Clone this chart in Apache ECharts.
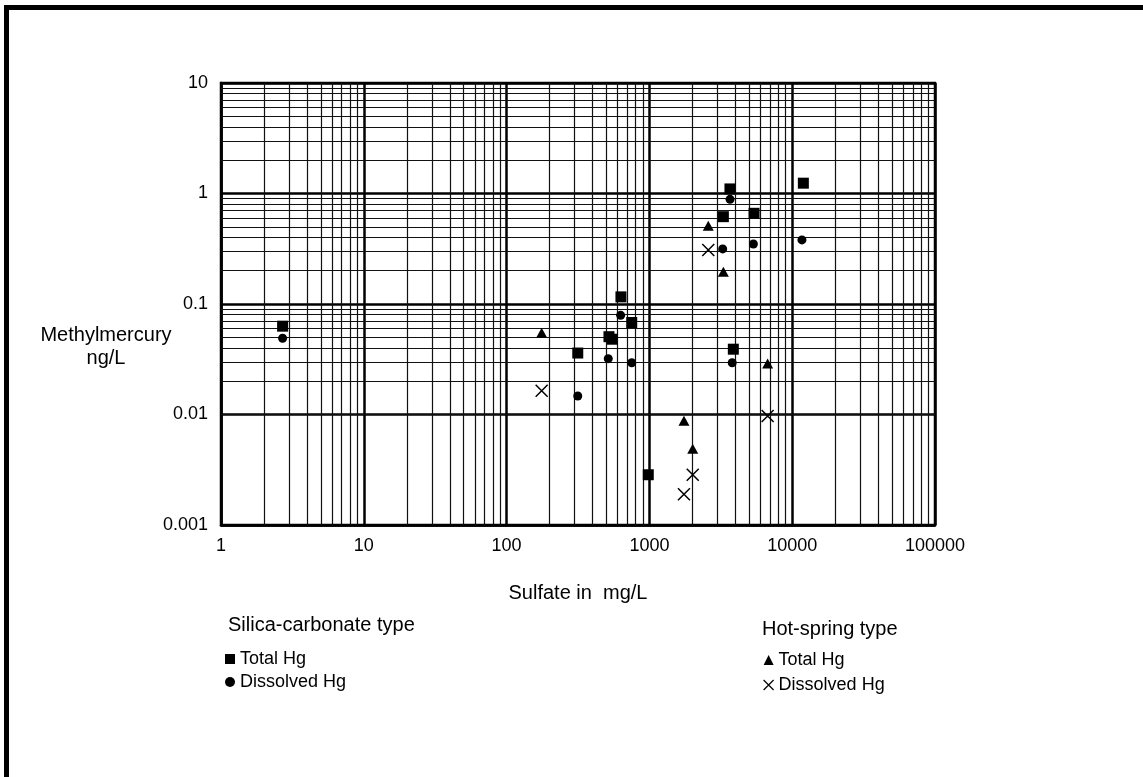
<!DOCTYPE html>
<html>
<head>
<meta charset="utf-8">
<script src="https://cdn.jsdelivr.net/npm/echarts@6/dist/echarts.min.js"></script>
<style>
html,body{margin:0;padding:0;background:#fff;}
#c{width:1143px;height:777px;}
</style>
</head>
<body>
<div id="c"></div>
<script>
// Sulfate (mg/L) vs Methylmercury (ng/L)
const silicaTotal = [[2.7,0.063],[315,0.036],[521,0.0506],[550,0.048],[632,0.116],[752,0.068],[982,0.00285],[3870,0.039],[3665,1.10],[3296,0.617],[5405,0.662],[11970,1.24]];
const silicaDissolved = [[2.7,0.049],[315,0.0147],[515,0.032],[629,0.079],[752,0.0294],[3800,0.0294],[3670,0.886],[3260,0.315],[5350,0.349],[11700,0.38]];
const hotTotal = [[176,0.055],[1746,0.0088],[2011,0.0049],[6730,0.029],[2584,0.511],[3296,0.196]];
const hotDissolved = [[176,0.0164],[2011,0.00285],[1746,0.0019],[6730,0.0097],[2584,0.308]];

const xDecades = [1,10,100,1000,10000];
const yDecades = [0.001,0.01,0.1,1];
const minorSteps = [2,3,4,5,6,7,8,9];

const FONT = 'Liberation Sans';
const XSYM = 'path://M0,0L10,10M10,0L0,10';

const gridLines = [];
xDecades.forEach(d => minorSteps.forEach(m => gridLines.push({xAxis: d*m})));
yDecades.forEach(d => minorSteps.forEach(m => gridLines.push({yAxis: +(d*m).toPrecision(6)})));

const fmt = v => String(+(+v).toPrecision(6));

const chart = echarts.init(document.getElementById('c'), null, {renderer:'canvas'});
chart.setOption({
  backgroundColor:'#fff',
  animation:false,
  textStyle:{fontFamily:FONT},
  grid:{left:221, top:83, width:714, height:442, show:true, borderColor:'#000', borderWidth:2.5, backgroundColor:'transparent'},
  xAxis:{
    type:'log', logBase:10, min:1, max:100000,
    name:'Sulfate in  mg/L', nameLocation:'middle', nameGap:58, nameMoveOverlap:false,
    nameTextStyle:{fontFamily:FONT, fontSize:20, color:'#000'},
    axisLine:{show:true, lineStyle:{color:'#000', width:2.5}},
    axisTick:{show:false},
    axisLabel:{fontFamily:FONT, fontSize:18, color:'#000', margin:12, formatter:fmt},
    splitLine:{show:true, lineStyle:{color:'#000', width:2.5}},
    minorTick:{show:false}, minorSplitLine:{show:false}
  },
  yAxis:{
    type:'log', logBase:10, min:0.001, max:10,
    axisLine:{show:true, lineStyle:{color:'#000', width:2.5}},
    axisTick:{show:false},
    axisLabel:{fontFamily:FONT, fontSize:18, color:'#000', margin:13, formatter:fmt},
    splitLine:{show:true, lineStyle:{color:'#000', width:2.5}},
    minorTick:{show:false}, minorSplitLine:{show:false}
  },
  legend:[
    {orient:'vertical', left:220, top:645, itemWidth:10, itemHeight:10, itemGap:5,
     textStyle:{fontFamily:FONT, fontSize:18, color:'#000'},
     data:['Silica Total Hg','Silica Dissolved Hg'],
     formatter: n => n.replace('Silica ','')},
    {orient:'vertical', left:758, top:646, itemWidth:10, itemHeight:10, itemGap:7,
     textStyle:{fontFamily:FONT, fontSize:18, color:'#000'},
     data:[{name:'Hot Total Hg'},{name:'Hot Dissolved Hg', itemStyle:{borderWidth:1.2}}],
     formatter: n => n.replace('Hot ','')}
  ],
  graphic:[
    {type:'line', shape:{x1:6.5, y1:7.5, x2:1143, y2:7.5}, style:{stroke:'#000', lineWidth:5}},
    {type:'line', shape:{x1:6.5, y1:5, x2:6.5, y2:777}, style:{stroke:'#000', lineWidth:5}},
    {type:'text', x:106, y:347, style:{text:'Methylmercury\nng/L', align:'center', verticalAlign:'middle', lineHeight:23, font:'20px "Liberation Sans"', fill:'#000'}},
    {type:'text', left:228, top:615, style:{text:'Silica-carbonate type', font:'20px "Liberation Sans"', fill:'#000'}},
    {type:'text', left:762, top:619, style:{text:'Hot-spring type', font:'20px "Liberation Sans"', fill:'#000'}}
  ],
  series:[
    {name:'Silica Total Hg', type:'scatter', data:silicaTotal, symbol:'rect', symbolSize:11,
     itemStyle:{color:'#000', opacity:1}, z:3,
     markLine:{silent:true, symbol:'none', z:1, animation:false, label:{show:false},
       lineStyle:{color:'#111', width:1.2, type:'solid'}, data:gridLines}},
    {name:'Silica Dissolved Hg', type:'scatter', data:silicaDissolved, symbol:'circle', symbolSize:9,
     itemStyle:{color:'#000', opacity:1}, z:3},
    {name:'Hot Total Hg', type:'scatter', data:hotTotal, symbol:'triangle', symbolSize:[11,10],
     itemStyle:{color:'#000', opacity:1}, z:3},
    {name:'Hot Dissolved Hg', type:'scatter', data:hotDissolved, symbol:XSYM, symbolSize:12,
     itemStyle:{color:'transparent', borderColor:'#000', borderWidth:1.5, opacity:1}, z:3}
  ]
});
</script>
</body>
</html>
